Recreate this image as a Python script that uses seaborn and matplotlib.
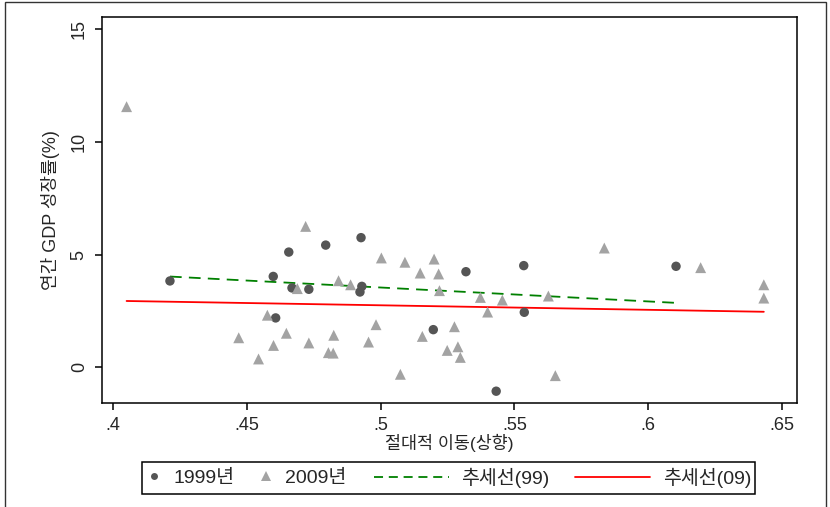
import matplotlib
matplotlib.use("Agg")
import matplotlib.pyplot as plt
import seaborn as sns
import numpy as np
import pandas as pd
from matplotlib.lines import Line2D
from matplotlib.patches import Rectangle

# ---- data ----
x_1999 = [0.4213, 0.4599, 0.4608, 0.4657, 0.4669, 0.4732, 0.4795, 0.4927,
          0.4930, 0.4923, 0.5197, 0.5319, 0.5432, 0.5535, 0.5537, 0.6104]
y_1999 = [3.83, 4.03, 2.19, 5.11, 3.52, 3.46, 5.42, 5.75,
          3.59, 3.34, 1.67, 4.24, -1.06, 4.51, 2.44, 4.48]

x_2009 = [0.4051, 0.4577, 0.4470, 0.4600, 0.4544, 0.4720, 0.5003, 0.5091,
          0.4689, 0.4843, 0.4888, 0.4648, 0.4983, 0.4825, 0.4732, 0.4955,
          0.4805, 0.4823, 0.5074, 0.5200, 0.5148, 0.5217, 0.5220, 0.5373,
          0.5455, 0.5627, 0.5400, 0.5276, 0.5156, 0.5289, 0.5249, 0.5298,
          0.5653, 0.5836, 0.6196, 0.6432, 0.6432]
y_2009 = [11.56, 2.31, 1.31, 0.97, 0.37, 6.25, 4.85, 4.66,
          3.49, 3.84, 3.66, 1.51, 1.89, 1.42, 1.08, 1.12,
          0.65, 0.63, -0.31, 4.80, 4.18, 4.14, 3.40, 3.10,
          2.98, 3.16, 2.45, 1.80, 1.37, 0.91, 0.75, 0.44,
          -0.37, 5.29, 4.42, 3.66, 3.07]

x_ticks = [0.4, 0.45, 0.5, 0.55, 0.6, 0.65]
x_tick_labels = [".4", ".45", ".5", ".55", ".6", ".65"]
y_ticks = [0, 5, 10, 15]
y_tick_labels = ["0", "5", "10", "15"]
x_label = "절대적 이동(상향)"
y_label = "연간 GDP 성장률(%)"
legend_labels = ["1999년", "2009년", "추세선(99)", "추세선(09)"]

# ---- style ----
sns.set_style("ticks")
plt.rcParams["font.family"] = ["Liberation Sans", "Noto Sans CJK KR"]

W, H = 830, 507
fig = plt.figure(figsize=(W / 100, H / 100), dpi=100)
fig.patch.set_facecolor("white")

def fx(px):
    return px / W

def fy(py):
    return 1 - py / H

ax_l, ax_r, ax_t, ax_b = 101.7, 797.0, 16.7, 402.7
ax = fig.add_axes([fx(ax_l), fy(ax_b), (ax_r - ax_l) / W, (ax_b - ax_t) / H])

c99 = "#555555"
c09 = "#a3a3a3"

sns.scatterplot(x=x_1999, y=y_1999, marker="o", color=c99, s=46,
                edgecolor="none", linewidth=0, ax=ax, zorder=3)
sns.scatterplot(x=x_2009, y=y_2009, marker="^", color=c09, s=62,
                edgecolor="none", linewidth=0, ax=ax, zorder=4)

sns.regplot(x=np.array(x_1999), y=np.array(y_1999), scatter=False, ci=None,
            truncate=True, ax=ax,
            line_kws=dict(color="#008000", lw=1.3, linestyle=(0, (6.5, 4)), zorder=2))
sns.regplot(x=np.array(x_2009), y=np.array(y_2009), scatter=False, ci=None,
            truncate=True, ax=ax,
            line_kws=dict(color="#ff0000", lw=1.3, linestyle="-", zorder=2))

ax.set_xlim(0.3958, 0.6556)
ax.set_ylim(-1.57, 15.55)
ax.set_xticks(x_ticks)
ax.set_xticklabels(x_tick_labels, fontsize=13)
ax.set_yticks(y_ticks)
ax.set_yticklabels(y_tick_labels, fontsize=13, rotation=90, va="center")
ax.tick_params(axis="both", length=5, width=1.1, color="black", pad=5)
for s in ax.spines.values():
    s.set_visible(True)
    s.set_color("black")
    s.set_linewidth(1.1)

ax.set_xlabel(x_label, fontsize=12.5, labelpad=0)
ax.set_ylabel(y_label, fontsize=13, labelpad=8)

# ---- legend (two legends in one framed box) ----
fs_leg = 14
h_circle = Line2D([], [], marker="o", ls="none", color=c99, markersize=5, markeredgewidth=0)
h_tri = Line2D([], [], marker="^", ls="none", color=c09, markersize=6.5, markeredgewidth=0)
h_l99 = Line2D([], [], color="#008000", lw=1.3, linestyle=(0, (5, 3.2)))
h_l09 = Line2D([], [], color="#ff0000", lw=1.3)

leg_y = fy(478)
leg1 = fig.legend([h_circle, h_tri], legend_labels[:2], ncol=2,
                  loc="center left", bbox_to_anchor=(fx(145), leg_y),
                  frameon=False, fontsize=fs_leg, handlelength=0.95,
                  handletextpad=0.5, columnspacing=1.15, borderpad=0,
                  borderaxespad=0)
leg2 = fig.legend([h_l99, h_l09], legend_labels[2:], ncol=2,
                  loc="center left", bbox_to_anchor=(fx(374), leg_y),
                  frameon=False, fontsize=fs_leg, handlelength=3.85,
                  handletextpad=0.65, columnspacing=1.3, borderpad=0,
                  borderaxespad=0)

fig.add_artist(Rectangle((fx(141.7), fy(494.3)), (755 - 141.7) / W, (494.3 - 461.7) / H,
                         transform=fig.transFigure, fill=False, edgecolor="black",
                         linewidth=1.1))
# outer border of the graph region
fig.add_artist(Rectangle((fx(4.5), -0.02), (826 - 4.5) / W, 1.02 - 2.5 / H,
                         transform=fig.transFigure, fill=False, edgecolor="#333333",
                         linewidth=1.0))

fig.savefig("out.png", dpi=100)
